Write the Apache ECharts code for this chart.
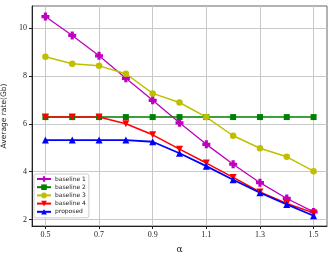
<!DOCTYPE html>
<html><head><meta charset="utf-8">
<script src="https://cdn.jsdelivr.net/npm/echarts@6/dist/echarts.min.js"></script>
<style>html,body{margin:0;padding:0;background:#fff}#c{width:333px;height:256px}</style>
</head><body><div id="c"></div>
<script>
const alphas = [0.5,0.6,0.7,0.8,0.9,1.0,1.1,1.2,1.3,1.4,1.5];
const baseline1 = [10.48,9.69,8.84,7.90,6.98,6.04,5.14,4.31,3.54,2.88,2.32];
const baseline2 = [6.28,6.28,6.28,6.28,6.28,6.28,6.28,6.28,6.28,6.28,6.28];
const baseline3 = [8.80,8.51,8.42,8.09,7.27,6.89,6.28,5.50,4.98,4.62,4.02];
const baseline4 = [6.28,6.28,6.28,6.00,5.54,4.94,4.36,3.76,3.15,2.67,2.28];
const proposed  = [5.32,5.32,5.32,5.32,5.25,4.77,4.23,3.66,3.12,2.63,2.16];
const xTicks = [0.5,0.7,0.9,1.1,1.3,1.5];
const yTicks = [2,4,6,8,10];
const names = ['baseline 1','baseline 2','baseline 3','baseline 4','proposed'];

const plus = 'path://M3,0 H7 V3 H10 V7 H7 V10 H3 V7 H0 V3 H3 Z';
function mk(name, vals, color, symbol, size, width){
  return {name, type:'line', data: alphas.map((a,i)=>[a, vals[i]]),
    symbol, symbolSize:size, lineStyle:{color, width}, itemStyle:{color},
    animation:false, z: 2};
}
const chart = echarts.init(document.getElementById('c'), null, {renderer:'canvas'});
chart.setOption({
  animation:false,
  grid:{left:32, right:6, top:6, bottom:30, show:true, borderColor:'#666', borderWidth:1, backgroundColor:'transparent', outerBoundsMode:'none', containLabel:false},
  xAxis:{type:'value', min:0.45, max:1.55,
    name:'α', nameLocation:'middle', nameGap:19,
    nameTextStyle:{fontFamily:'DejaVu Serif', fontSize:9, color:'#222'},
    axisLine:{show:true, onZero:false, lineStyle:{color:'#222', width:1}},
    axisTick:{show:true, length:3, customValues:xTicks, lineStyle:{color:'#222'}},
    axisLabel:{customValues:xTicks, formatter:v=>v.toFixed(1), fontFamily:'Liberation Serif', fontSize:8, color:'#222', margin:5},
    splitLine:{show:true, lineStyle:{color:'#c8c8c8', width:1}}},
  yAxis:{type:'value', min:1.73, max:10.92,
    name:'Average rate(Gb)', nameLocation:'middle', nameGap:20, nameRotate:90,
    nameTextStyle:{fontFamily:'DejaVu Sans', fontSize:7.5, color:'#222'},
    axisLine:{show:true, onZero:false, lineStyle:{color:'#222', width:1}},
    axisTick:{show:true, length:3, customValues:yTicks, lineStyle:{color:'#222'}},
    axisLabel:{customValues:yTicks, fontFamily:'Liberation Serif', fontSize:8, color:'#222', margin:5},
    splitLine:{show:true, lineStyle:{color:'#c8c8c8', width:1}}},
  legend:{orient:'vertical', left:34, top:174, data:names,
    itemWidth:14, itemHeight:7, itemGap:2.2, padding:[2,3,3,2],
    backgroundColor:'rgba(255,255,255,0.85)', borderColor:'#ccc', borderWidth:1, borderRadius:2,
    textStyle:{fontFamily:'DejaVu Sans', fontSize:6, color:'#222', padding:[0,0,0,-1]}},
  series:[
    mk('baseline 1', baseline1, '#bf00bf', plus, 8, 1.3),
    mk('baseline 2', baseline2, '#008000', 'rect', 6, 1.5),
    mk('baseline 3', baseline3, '#bfbf00', 'circle', 6.5, 1.5),
    mk('baseline 4', baseline4, '#ff0000', 'path://M0,0 H10 L5,9 Z', 7, 1.5),
    mk('proposed', proposed, '#0000ff', 'triangle', 7, 1.8)
  ]
});
</script></body></html>
